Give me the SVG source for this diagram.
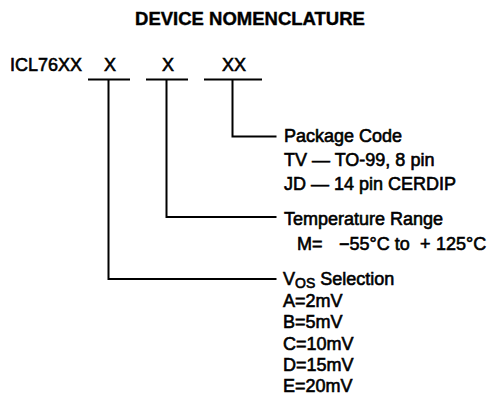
<svg xmlns="http://www.w3.org/2000/svg" width="491" height="403" viewBox="0 0 491 403">
<style>
text{font-family:"Liberation Sans",Arial,sans-serif;font-size:18px;fill:#000;stroke:#000;stroke-width:0.6}
.title{font-weight:bold;font-size:18.5px;stroke-width:0.4}
.sub{font-size:14px}
.ln{stroke:#000;stroke-width:2;fill:none}
</style>
<rect width="491" height="403" fill="#fff"/>
<text class="title" x="250" y="25" text-anchor="middle">DEVICE NOMENCLATURE</text>
<g id="part">
<text x="10" y="71">ICL76XX</text>
<text x="110" y="71" text-anchor="middle">X</text>
<text x="168" y="71" text-anchor="middle">X</text>
<text x="234" y="71" text-anchor="middle">XX</text>
</g>
<g id="connectors">
<path class="ln" d="M88 79.5H130M146 79.5H188M204 79.5H262"/>
<path class="ln" d="M108.5 79.5V279H276.5"/>
<path class="ln" d="M166.5 79.5V217H276.5"/>
<path class="ln" d="M232.5 79.5V136.5H276.5"/>
</g>
<g id="package">
<text x="284" y="142">Package Code</text>
<text x="284" y="166">TV — TO-99, 8 pin</text>
<text x="284" y="190">JD — 14 pin CERDIP</text>
</g>
<g id="temperature">
<text x="284" y="225">Temperature Range</text>
<text x="297" y="250">M=<tspan x="339">−55°C to</tspan><tspan x="420">+</tspan><tspan x="436">125°C</tspan></text>
</g>
<g id="vos">
<text x="283" y="285">V<tspan class="sub" dy="3">OS</tspan><tspan dy="-3"> Selection</tspan></text>
<text x="283" y="307">A=2mV</text>
<text x="283" y="328">B=5mV</text>
<text x="283" y="350">C=10mV</text>
<text x="283" y="371">D=15mV</text>
<text x="283" y="392">E=20mV</text>
</g>
</svg>
